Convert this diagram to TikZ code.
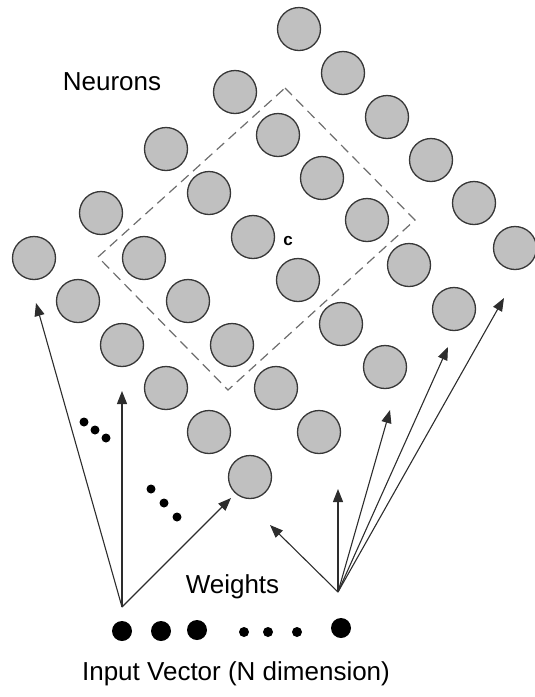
\documentclass[tikz,border=0pt]{standalone}
\usepackage{fontspec}
\setmainfont{Liberation Sans}
\usetikzlibrary{arrows.meta}

\definecolor{cellfill}{RGB}{192,192,192}
\definecolor{cellline}{RGB}{55,55,55}
\definecolor{boxline}{RGB}{110,110,110}
\definecolor{wireline}{RGB}{45,45,45}

\tikzset{
  neuron/.style={circle, draw=cellline, fill=cellfill, line width=1.3pt,
                 minimum size=43pt, inner sep=0pt},
  bigdot/.style={circle, fill=black, minimum size=20pt, inner sep=0pt},
  smalldot/.style={circle, fill=black, minimum size=10pt, inner sep=0pt},
  elldot/.style={circle, fill=black, minimum size=9pt, inner sep=0pt},
  weight/.style={draw=wireline, line width=1.1pt,
                 -{Triangle[length=13pt,width=10pt]}},
  hood/.style={draw=boxline, line width=1.2pt, dash pattern=on 10pt off 6pt},
  label/.style={font=\fontsize{26}{30}\selectfont, inner sep=0pt, anchor=base}
}

\begin{document}
\begin{tikzpicture}[x=1pt,y=-1pt]
  \useasboundingbox (0,0) rectangle (535,697);

  % neighbourhood of the winning neuron
  \draw[hood] (285,88) -- (415,220) -- (228,390) -- (98,257) -- cycle;

  % map of neurons: five rows of six
  \node[neuron] (a1) at (299,29) {};
  \node[neuron] (a2) at (343,73) {};
  \node[neuron] (a3) at (387,117) {};
  \node[neuron] (a4) at (431,160) {};
  \node[neuron] (a5) at (474,203) {};
  \node[neuron] (a6) at (515,248) {};

  \node[neuron] (b1) at (235,92) {};
  \node[neuron] (b2) at (278,135) {};
  \node[neuron] (b3) at (322,178) {};
  \node[neuron] (b4) at (367,220) {};
  \node[neuron] (b5) at (409,265) {};
  \node[neuron] (b6) at (454,309) {};

  \node[neuron] (c1) at (166,149) {};
  \node[neuron] (c2) at (209,193) {};
  \node[neuron] (c3) at (253,237) {};
  \node[neuron] (c4) at (298,280) {};
  \node[neuron] (c5) at (341,324) {};
  \node[neuron] (c6) at (385,367) {};

  \node[neuron] (d1) at (101,213) {};
  \node[neuron] (d2) at (144,258) {};
  \node[neuron] (d3) at (188,301) {};
  \node[neuron] (d4) at (232,345) {};
  \node[neuron] (d5) at (276,388) {};
  \node[neuron] (d6) at (319,432) {};

  \node[neuron] (e1) at (34,258) {};
  \node[neuron] (e2) at (78,301) {};
  \node[neuron] (e3) at (122,345) {};
  \node[neuron] (e4) at (166,388) {};
  \node[neuron] (e5) at (209,432) {};
  \node[neuron] (e6) at (250,477) {};

  \node[font=\fontsize{17}{20}\selectfont\bfseries, inner sep=0pt] (cname) at (288,241) {c};

  % input vector
  \node[bigdot]   (x1) at (122,631) {};
  \node[bigdot]   (x2) at (161,631) {};
  \node[bigdot]   (x3) at (197,630) {};
  \node[smalldot] (x4) at (244,632) {};
  \node[smalldot] (x5) at (268,632) {};
  \node[smalldot] (x6) at (297,632) {};
  \node[bigdot]   (xn) at (341,628) {};

  % weight connectors
  \coordinate (srcL) at (122,607);
  \coordinate (srcR) at (338,592);
  \coordinate (tL1) at (36,303);
  \coordinate (tL2) at (122,391);
  \coordinate (tL3) at (231,498);
  \coordinate (tR1) at (270,525);
  \coordinate (tR2) at (338,489);
  \coordinate (tR3) at (390,410);
  \coordinate (tR4) at (448,347);
  \coordinate (tR5) at (504,298);

  \draw[weight] (srcL) -- (tL1);
  \draw[weight] (srcL) -- (tL2);
  \draw[weight] (srcL) -- (tL3);
  \draw[weight] (srcR) -- (tR1);
  \draw[weight] (srcR) -- (tR2);
  \draw[weight] (srcR) -- (tR3);
  \draw[weight] (srcR) -- (tR4);
  \draw[weight] (srcR) -- (tR5);

  % elided connectors
  \node[elldot] (p1) at (84,422) {};
  \node[elldot] (p2) at (95,430) {};
  \node[elldot] (p3) at (106,438) {};
  \node[elldot] (q1) at (151,489) {};
  \node[elldot] (q2) at (164,503) {};
  \node[elldot] (q3) at (177,517) {};

  % captions
  \node[label] (neurons) at (112,90.5) {Neurons};
  \node[label] (weights) at (232.5,593) {Weights};
  \node[label] (input) at (236,680) {Input Vector (N dimension)};
\end{tikzpicture}
\end{document}
